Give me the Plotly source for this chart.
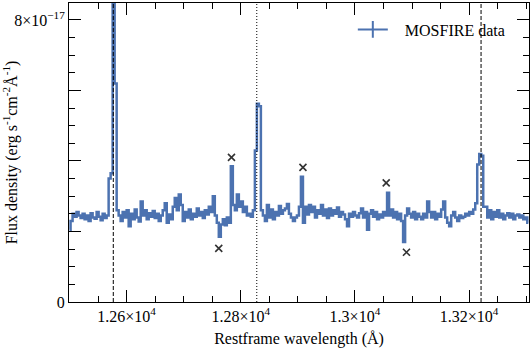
import numpy as np
import plotly.graph_objects as go

# spectrum, flux in units of 1e-17 erg/s/cm2/A, sampled every 3.51 A from 12500 A
wave_start = 12500.0
wave_step = 3.51
flux = [
    2.05, 2.30, 2.50, 2.42, 2.55, 2.45, 2.38, 2.50, 2.35, 2.45,
    2.30, 2.52, 2.40, 2.36, 2.55, 2.42, 2.32, 2.50, 2.38, 2.45,
    3.50, 3.65, 8.90, 6.20, 2.60, 2.45, 2.30, 2.55, 2.40, 2.60,
    2.15, 2.50, 2.35, 2.62, 2.40, 2.28, 2.85, 2.45, 2.60, 2.35,
    2.52, 2.42, 2.58, 2.38, 2.50, 2.30, 2.45, 2.60, 2.80, 2.25,
    2.48, 2.35, 2.70, 2.95, 2.60, 3.05, 2.75, 2.30, 2.55, 2.40,
    2.62, 2.35, 2.50, 2.42, 2.65, 2.45, 2.55, 2.38, 2.60, 2.48,
    2.70, 2.55, 3.00, 2.45, 2.25, 1.85, 2.20, 2.35, 2.18, 2.40,
    2.25, 3.85, 2.75, 2.60, 3.05, 2.70, 2.85, 2.55, 2.70, 2.45,
    2.50, 2.42, 2.60, 4.30, 5.62, 5.55, 2.60, 2.45, 2.30, 2.75,
    2.40, 2.62, 2.35, 2.55, 2.45, 2.72, 2.50, 2.60, 2.65, 2.78,
    2.50, 2.40, 2.30, 2.40, 2.45, 2.70, 3.55, 2.25, 2.70, 2.48,
    2.75, 2.55, 2.70, 2.40, 2.60, 2.50, 2.75, 2.45, 2.62, 2.38,
    2.65, 2.45, 2.60, 2.50, 2.68, 2.42, 2.55, 2.48, 2.35, 2.15,
    2.50, 2.42, 2.55, 2.45, 2.40, 2.52, 2.65, 2.40, 2.55, 2.05,
    2.50, 2.60, 2.42, 2.55, 2.35, 2.48, 2.40, 2.55, 2.45, 3.10,
    2.45, 2.62, 2.40, 2.55, 2.35, 2.50, 2.30, 1.70, 2.45, 2.65,
    2.50, 2.40, 2.55, 2.35, 2.50, 2.42, 2.35, 2.50, 2.40, 2.85,
    2.55, 2.40, 2.55, 2.35, 2.50, 2.42, 2.62, 2.85, 2.40, 2.25,
    2.15, 2.45, 2.55, 2.40, 2.30, 2.45, 2.38, 2.42, 2.50, 2.45,
    2.55, 2.50, 2.62, 2.80, 3.90, 4.20, 4.15, 2.70, 2.70, 2.40,
    2.60, 2.35, 2.55, 2.42, 2.60, 2.40, 2.50, 2.35, 2.45, 2.52,
    2.40, 2.50, 2.35, 2.45, 2.48, 2.40, 2.45, 2.35, 2.40, 2.25,
]
wave = wave_start + wave_step * np.arange(len(flux))

# emission line positions (restframe, A)
dashed_lines = [12576.6, 13221.0]
dotted_lines = [12828.0]

# sky-line residual markers
sky_wave = [12761.4, 12783.7, 12908.9, 13054.8, 13090.3]
sky_flux = [1.52, 4.10, 3.82, 3.38, 1.41]

# tick labels (y axis is in units of 1e-17)
xtick_alias = {'12600': '1.26×10<sup>4</sup>', '12800': '1.28×10<sup>4</sup>',
               '13000': '1.3×10<sup>4</sup>', '13200': '1.32×10<sup>4</sup>',
               '12,600': '1.26×10<sup>4</sup>', '12,800': '1.28×10<sup>4</sup>',
               '13,000': '1.3×10<sup>4</sup>', '13,200': '1.32×10<sup>4</sup>'}
ytick_alias = {'2': ' ', '4': ' ', '6': ' ', '8': '8×10<sup>−17</sup>'}

blue = '#4c72b0'
font = dict(family='Liberation Serif, Times New Roman, serif', size=16, color='black')

fig = go.Figure()
fig.add_trace(go.Scatter(x=wave, y=flux, mode='lines',
                         line=dict(color=blue, width=2.5, shape='hvh'),
                         showlegend=False, hoverinfo='skip'))
fig.add_trace(go.Scatter(x=[None], y=[None], mode='lines+markers',
                         name='\u00a0\u00a0\u00a0MOSFIRE data',
                         line=dict(color=blue, width=2),
                         marker=dict(symbol='line-ns-open', size=12, color=blue,
                                     line=dict(color=blue, width=2))))
fig.add_trace(go.Scatter(x=sky_wave, y=sky_flux, mode='markers',
                         marker=dict(symbol='x-thin-open', size=7, color='#333333',
                                     line=dict(color='#333333', width=1.6)),
                         showlegend=False))

for xv in dashed_lines:
    fig.add_shape(type='line', x0=xv, x1=xv, y0=0, y1=1, xref='x', yref='paper',
                  line=dict(color='black', width=1, dash='4px,2px'))
for xv in dotted_lines:
    fig.add_shape(type='line', x0=xv, x1=xv, y0=0, y1=1, xref='x', yref='paper',
                  line=dict(color='black', width=1, dash='1px,2px'))

axis_common = dict(showline=True, linecolor='black', linewidth=1, mirror='ticks',
                   ticks='inside', ticklen=12, tickwidth=1, tickcolor='black',
                   showgrid=False, zeroline=False, tickfont=font, automargin=False,
                   tickmode='linear', exponentformat='none')

fig.update_xaxes(range=[12499, 13305], tick0=12600, dtick=200, labelalias=xtick_alias,
                 title=dict(text='Restframe wavelength (Å)', font=font, standoff=8),
                 minor=dict(ticks='inside', ticklen=6, dtick=50, tick0=12500,
                            tickcolor='black', showgrid=False),
                 **axis_common)
fig.update_yaxes(range=[0, 8.48], tick0=0, dtick=2, labelalias=ytick_alias,
                 title=dict(text='Flux density (erg s<sup>-1</sup>cm<sup>-2</sup>Å<sup>-1</sup>)',
                            font=font, standoff=8),
                 minor=dict(ticks='inside', ticklen=6, dtick=0.5, tick0=0,
                            tickcolor='black', showgrid=False),
                 **axis_common)

fig.update_layout(width=531, height=354, template='plotly_white',
                  paper_bgcolor='white', plot_bgcolor='white',
                  margin=dict(l=69, r=2, t=3, b=52), font=font,
                  legend=dict(x=0.617, y=0.968, xanchor='left', yanchor='top',
                              bgcolor='rgba(0,0,0,0)', font=font))

# page body has a default 8px margin; remove it so the figure sits at the window origin
fig.write_html("out.html", config={'displayModeBar': False},
               post_script="document.body.style.margin='0';")
